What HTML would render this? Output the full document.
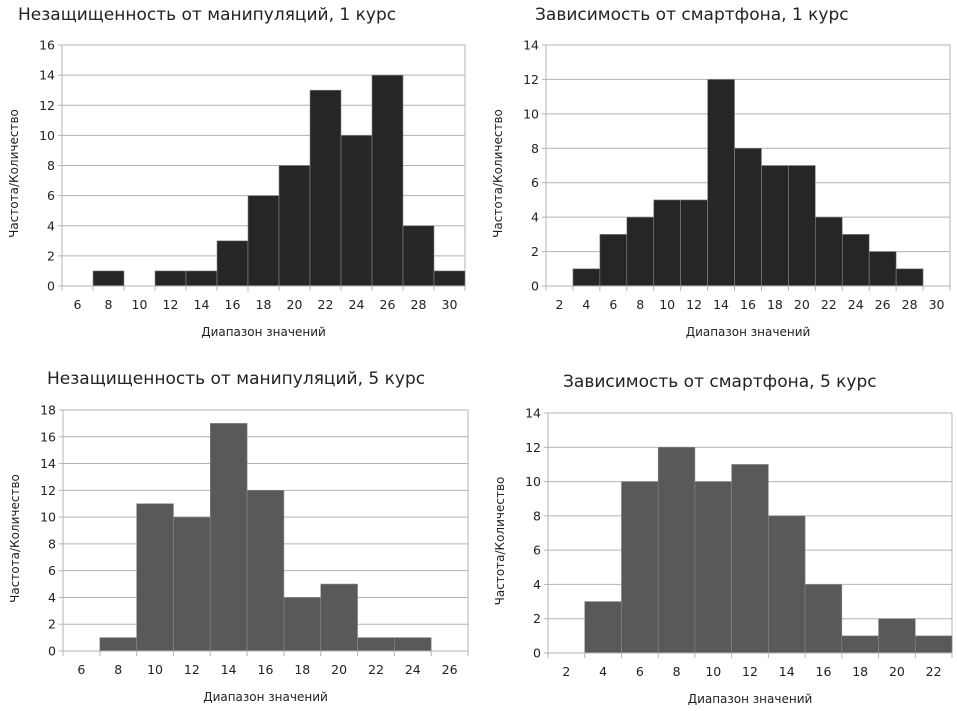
<!DOCTYPE html>
<html><head><meta charset="utf-8"><style>
html,body{margin:0;padding:0;background:#fff;}
svg{display:block;font-family:"DejaVu Sans","Liberation Sans",sans-serif;}
</style></head><body>
<svg id="s" width="957" height="711" viewBox="0 0 957 711"></svg>
<script>
const c1Labels=[6,8,10,12,14,16,18,20,22,24,26,28,30];
const c1Values=[0,1,0,1,1,3,6,8,13,10,14,4,1];
const c1Ticks=[0,2,4,6,8,10,12,14,16];
const c2Labels=[2,4,6,8,10,12,14,16,18,20,22,24,26,28,30];
const c2Values=[0,1,3,4,5,5,12,8,7,7,4,3,2,1,0];
const c2Ticks=[0,2,4,6,8,10,12,14];
const c3Labels=[6,8,10,12,14,16,18,20,22,24,26];
const c3Values=[0,1,11,10,17,12,4,5,1,1,0];
const c3Ticks=[0,2,4,6,8,10,12,14,16,18];
const c4Labels=[2,4,6,8,10,12,14,16,18,20,22];
const c4Values=[0,3,10,12,10,11,8,4,1,2,1];
const c4Ticks=[0,2,4,6,8,10,12,14];
const NS='http://www.w3.org/2000/svg';
const svg=document.getElementById('s');
function mk(tag,attrs,parent,text){const e=document.createElementNS(NS,tag);for(const k in attrs)e.setAttribute(k,attrs[k]);if(text!==undefined)e.textContent=text;parent.appendChild(e);return e;}
function chart(id,cfg,labels,values,ticks){
  const g=mk('g',{},svg);
  
  
  const {L,R,T,B,title,tx,ty,color}=cfg;
  const maxY=ticks[ticks.length-1];
  const n=labels.length;
  const bw=(R-L)/n;
  const xs=i=>L+i*bw;
  const ys=v=>B-(v/maxY)*(B-T);
  const t=mk('text',{x:tx,y:ty,'font-size':17,fill:'#222'},g,title);
  
  
  ticks.forEach(v=>{
    const y=ys(v);
    if(v>0){const gl=mk('line',{x1:L,x2:R,y1:y,y2:y,stroke:'#b3b3b3','stroke-width':1},g);
    
    }
    mk('line',{x1:L-4,x2:L,y1:y,y2:y,stroke:'#b3b3b3'},g);
    const tl=mk('text',{x:L-7,y:y+4.5,'font-size':12.5,'text-anchor':'end',fill:'#222'},g,v);
    
    
  });
  mk('line',{x1:L,x2:L,y1:T,y2:B,stroke:'#b3b3b3'},g);
  mk('line',{x1:R,x2:R,y1:T,y2:B,stroke:'#b3b3b3'},g);
  values.forEach((v,i)=>{
    if(v>0){const r=mk('rect',{x:xs(i),y:ys(v),width:bw,height:B-ys(v),fill:color,stroke:'#888','stroke-width':0.6},g);
    
    }
  });
  mk('line',{x1:L,x2:R,y1:B,y2:B,stroke:'#b3b3b3'},g);
  for(let i=0;i<=n;i++){mk('line',{x1:xs(i),x2:xs(i),y1:B,y2:B+5,stroke:'#b3b3b3'},g);}
  labels.forEach((lb,i)=>{
    const xl=mk('text',{x:xs(i)+bw/2,y:B+23,'font-size':12.5,'text-anchor':'middle',fill:'#222'},g,lb);
    
    
  });
  const xt=mk('text',{x:(L+R)/2,y:B+50,'font-size':12,'text-anchor':'middle',fill:'#222'},g,'Диапазон значений');
  
  
  const cy=(T+B)/2+8;
  const yt=mk('text',{x:0,y:0,'font-size':12,'text-anchor':'middle',fill:'#222',transform:`translate(${L-44},${cy}) rotate(-90)`},g,'Частота/Количество');
  
  
}
chart('chart-manipulation-1',{L:62,R:465,T:45,B:286,title:'Незащищенность от манипуляций, 1 курс',tx:18,ty:20,color:'#262626'},c1Labels,c1Values,c1Ticks);
chart('chart-smartphone-1',{L:546,R:950,T:45,B:286,title:'Зависимость от смартфона, 1 курс',tx:535,ty:20,color:'#262626'},c2Labels,c2Values,c2Ticks);
chart('chart-manipulation-5',{L:63,R:468,T:410,B:651,title:'Незащищенность от манипуляций, 5 курс',tx:47,ty:384,color:'#595959'},c3Labels,c3Values,c3Ticks);
chart('chart-smartphone-5',{L:548,R:952,T:413,B:653,title:'Зависимость от смартфона, 5 курс',tx:563,ty:387,color:'#595959'},c4Labels,c4Values,c4Ticks);
</script>
</body></html>
